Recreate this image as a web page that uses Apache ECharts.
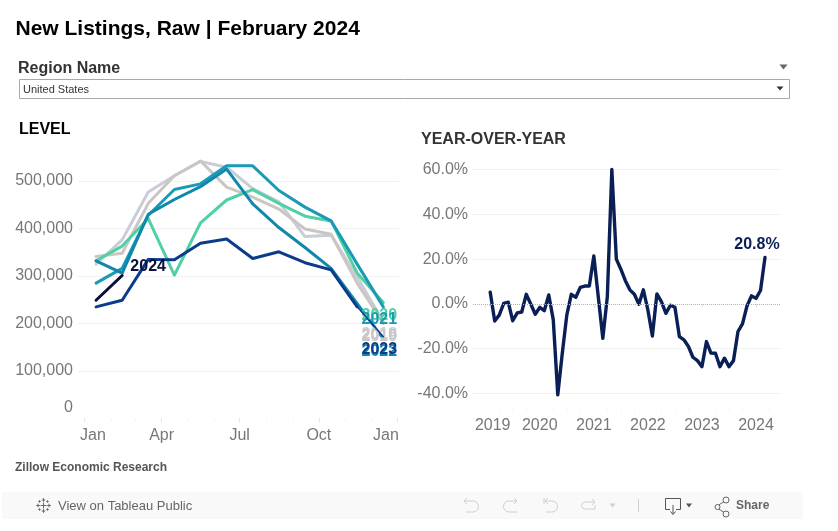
<!DOCTYPE html>
<html><head><meta charset="utf-8">
<style>html,body{margin:0;padding:0;background:#fff}#c{width:838px;height:531px}</style>
<script src="https://cdn.jsdelivr.net/npm/echarts@6/dist/echarts.min.js"></script>
</head><body><div id="c"></div>
<script>
// ---- data ----
const monthPositions = [0.45,1.45,2.45,3.45,4.45,5.45,6.45,7.45,8.45,9.45,10.45,11.45];
const level2018 = [325000,376000,477000,511000,541000,529000,484000,456000,383000,386000,298000,203000];
const level2019 = [341000,348000,453000,511000,542000,487000,466000,441000,399000,388000,285000,200000];
const level2020 = [332000,363000,421000,302000,412000,460000,482000,453000,426000,416000,306000,244000];
const level2021 = [285000,316000,428000,482000,494000,532000,532000,480000,445000,416000,325000,235000];
const level2022 = [332000,306000,430000,461000,488000,525000,452000,402000,360000,316000,242000,168000];
const level2023 = [235000,249000,335000,334000,369000,378000,337000,351000,328000,313000,235000,172000];
const level2024 = [249000,301000];
const levelTickLabels = ['Jan','Apr','Jul','Oct','Jan'];
const levelAxisValues = [100000,200000,300000,400000,500000];
const yoyValues = [5.2,-7.6,-5,0.3,0.8,-7.5,-4,-3.6,4.3,0,-4.6,-1.5,-3,4,-7.1,-40.6,-22,-5,4.3,3,7.4,8,8,21.4,3,-15.3,3.3,60,20,15.5,10.4,6.3,4.3,-0.1,6.3,-2.7,-14.3,4.5,1,-4.2,-0.6,-1.5,-14.6,-16,-19,-23.8,-25.3,-28,-16.8,-21.9,-22,-28,-24.2,-28,-25.3,-12.3,-8.9,-0.9,3.6,2.5,6,20.8];
const yoyTickLabels = ['2019','2020','2021','2022','2023','2024'];
const yoyAxisValues = [-40,-20,20,40,60];

// ---- style ----
const FONT = '"Liberation Sans", Arial, sans-serif';
const COL = {2018:'#c8cdd8',2019:'#cbc6c3',2020:'#4fd1a5',2021:'#1a9ab6',2022:'#0e89ab',2023:'#0b3c8c',2024:'#0a0f3c'};
const AXIS = '#777777', GRID = '#f1f1f1';

function lineSeries(year, vals, dy, extra){
  const pts = vals.map((v,i)=> v==null ? null : [monthPositions[i], v]).filter(Boolean);
  return Object.assign({
    type:'line', name:String(year), data:pts, xAxisIndex:0, yAxisIndex:0,
    showSymbol:false, symbol:'none', silent:true, animation:false, smooth:false,
    lineStyle:{color:COL[year], width:3, cap:'round', join:'round'},
    z: 2,
    endLabel:{show:dy!=null, formatter:String(year), color:COL[year], fontFamily:FONT, fontSize:16, fontWeight:'bold',
      align:'center', verticalAlign:'middle', distance:0, offset:[-4, dy==null?0:dy]}
  }, extra||{});
}
function txt(s,x,y,size,weight,color,align){
  return {type:'text',silent:true,x:x,y:y,style:{text:s,fontFamily:FONT,fontSize:size,fontWeight:weight||'normal',fill:color,align:align||'left',verticalAlign:'middle'}};
}
function tri(cx,cy,w,h,fill){
  return {type:'polygon',silent:true,shape:{points:[[cx-w/2,cy-h/2],[cx+w/2,cy-h/2],[cx,cy+h/2]]},style:{fill:fill}};
}
function pl(points,color,w){
  return {type:'polyline',silent:true,shape:{points:points},style:{fill:'none',stroke:color,lineWidth:w||1}};
}
function arc(cx,cy,r,a0,a1,color){
  return {type:'arc',silent:true,shape:{cx:cx,cy:cy,r:r,startAngle:a0,endAngle:a1,clockwise:true},style:{fill:'none',stroke:color,lineWidth:1}};
}
function buildGraphics(){
  const g=[];
  g.push(txt('New Listings, Raw | February 2024',15.5,29,21,'bold','#000'));
  g.push(txt('Region Name',18,69,16,'bold','#333'));
  g.push(tri(783.5,67,8,5,'#666'));
  g.push({type:'rect',silent:true,shape:{x:19.5,y:79.5,width:770,height:19},style:{fill:'#fff',stroke:'#a9a9a9',lineWidth:1}});
  g.push(txt('United States',23,89.5,11,'normal','#333'));
  g.push(tri(780,88.5,7,4,'#333'));
  g.push(txt('LEVEL',19,130,16,'bold','#000'));
  g.push(txt('YEAR-OVER-YEAR',421,140,16,'bold','#333'));
  g.push(txt('Zillow Economic Research',15,467.5,12,'bold','#555'));
  g.push({type:'rect',silent:true,z:-1,shape:{x:2,y:492,width:801,height:27},style:{fill:'#f9f9f9'}});
  // tableau logo
  const lc='#666';
  [[0,0,3],[-5.5,0,1.8],[5.5,0,1.8],[0,-5.5,1.8],[0,5.5,1.8],[-4,-4,1.2],[4,-4,1.2],[-4,4,1.2],[4,4,1.2]].forEach(p=>{
    const x=43.5+p[0],y=505.5+p[1],r=p[2];
    g.push(pl([[x-r,y],[x+r,y]],lc)); g.push(pl([[x,y-r],[x,y+r]],lc));
  });
  g.push(txt('View on Tableau Public',58,506,13,'normal','#666'));
  const dis='#cfcfcf', PI=Math.PI;
  // undo
  g.push(pl([[467,498],[464,501],[467,504]],dis)); g.push(pl([[464,501],[473,501]],dis));
  g.push(arc(473,506.5,5.5,-PI/2,PI/2,dis)); g.push(pl([[473,512],[466,512]],dis));
  // redo
  g.push(pl([[514,498],[517,501],[514,504]],dis)); g.push(pl([[517,501],[509,501]],dis));
  g.push(arc(509,506.5,5.5,PI/2,3*PI/2,dis)); g.push(pl([[509,512],[517,512]],dis));
  // revert
  g.push(pl([[544,498],[544,504]],dis)); g.push(pl([[548,498],[545,501],[548,504]],dis)); g.push(pl([[545,501],[552,501]],dis));
  g.push(arc(552,506.5,5.5,-PI/2,PI/2,dis)); g.push(pl([[552,512],[546,512]],dis));
  // refresh
  g.push(pl([[592,499],[595,502],[592,505]],dis)); g.push(pl([[595,502],[585,502]],dis));
  g.push(arc(585,505.5,3.5,PI/2,3*PI/2,dis)); g.push(pl([[585,509],[595,509],[595,505]],dis));
  g.push(tri(612.5,505.5,6,4,dis));
  g.push(pl([[638.5,499],[638.5,512]],dis));
  // download
  g.push(pl([[670,509.5],[665.5,509.5],[665.5,498.5],[680.5,498.5],[680.5,509.5],[676,509.5]],'#555'));
  g.push(pl([[673,505],[673,514]],'#555')); g.push(pl([[670.5,511.5],[673,514.5],[675.5,511.5]],'#555'));
  g.push(tri(689,505.5,6,4,'#555'));
  // share
  g.push(pl([[717,506],[725,501]],'#666')); g.push(pl([[717,508],[725,513]],'#666'));
  [[717.5,507,2.5],[726,500,3],[726,514,3]].forEach(c=>g.push({type:'circle',silent:true,shape:{cx:c[0],cy:c[1],r:c[2]},style:{fill:'#f9f9f9',stroke:'#666',lineWidth:1}}));
  g.push(txt('Share',736,506,12,'bold','#666'));
  return g;
}
const levelLabelAt = {0.33:levelTickLabels[0],2.96:levelTickLabels[1],5.95:levelTickLabels[2],8.98:levelTickLabels[3],11.55:levelTickLabels[4]};
const opt = {
  animation:false,
  textStyle:{fontFamily:FONT},
  grid:[
    {left:78, width:321, top:143, height:275.5, containLabel:false},
    {left:473, width:308, top:160.6, height:248.4, containLabel:false}
  ],
  xAxis:[
    {gridIndex:0,type:'value',position:'bottom',min:-0.241,max:12.05,axisLine:{show:false},splitLine:{show:false},
     axisTick:{show:true,length:4,lineStyle:{color:'#e4e4e4'},customValues:[0,2.96,5.95,8.98,12]},
     axisLabel:{show:true,customValues:[0.33,2.96,5.95,8.98,11.55],color:AXIS,fontSize:16,fontFamily:FONT,margin:9,
       hideOverlap:false,showMinLabel:true,showMaxLabel:true,formatter:v=>levelLabelAt[v]}},
    {gridIndex:0,type:'value',position:'bottom',min:-0.241,max:12.05,axisLine:{show:false},splitLine:{show:false},
     axisTick:{show:true,length:3,lineStyle:{color:'#f4f4f4'},customValues:[1.02,1.94,3.945,4.96,6.97,7.99,10,10.98]},axisLabel:{show:false}},
    {gridIndex:1,type:'value',position:'bottom',min:-2.82,max:65.55,axisLine:{show:false},splitLine:{show:false},
     axisTick:{show:true,length:4,lineStyle:{color:'#e4e4e4'},customValues:[0,12,24,36,48,60]},
     axisLabel:{show:true,customValues:[1.55,12,24,36,48,60],color:AXIS,fontSize:16,fontFamily:FONT,margin:9,
       hideOverlap:false,showMinLabel:true,showMaxLabel:true,
       formatter:v=>yoyTickLabels[v===1.55?0:v/12]}},
    {gridIndex:1,type:'value',position:'bottom',min:-2.82,max:65.55,axisLine:{show:false},splitLine:{show:false},
     axisTick:{show:true,length:3,lineStyle:{color:'#f4f4f4'},customValues:[3,6,9,15,18,21,27,30,33,39,42,45,51,54,57,63]},axisLabel:{show:false}}
  ],
  yAxis:[
    {gridIndex:0,type:'value',min:0,max:580000,axisLine:{show:false},
     axisTick:{show:false,customValues:levelAxisValues},
     splitLine:{show:true,lineStyle:{color:GRID,width:1}},
     axisLabel:{customValues:[22000].concat(levelAxisValues),color:AXIS,fontSize:16,fontFamily:FONT,margin:5,
       showMinLabel:true,showMaxLabel:true,hideOverlap:false,
       formatter:v=> v===22000 ? '0' : v.toLocaleString('en-US')}},
    {gridIndex:1,type:'value',min:-46.9,max:64,axisLine:{show:false},
     axisTick:{show:false,customValues:yoyAxisValues},
     splitLine:{show:true,lineStyle:{color:GRID,width:1}},
     axisLabel:{customValues:[-40,-20,0,20,40,60],color:AXIS,fontSize:16,fontFamily:FONT,margin:5,
       showMinLabel:true,showMaxLabel:true,hideOverlap:false,
       formatter:v=>v.toFixed(1)+'%'}}
  ],
  series:[
    lineSeries(2018, level2018, 13),
    lineSeries(2019, level2019, 13),
    lineSeries(2020, level2020, 13),
    lineSeries(2021, level2021, 13),
    lineSeries(2022, level2022, 13),
    lineSeries(2023, level2023.slice(0,11), null, {z:3}),
    lineSeries(2023, [null,null,null,null,null,null,null,null,null,null,level2023[10],level2023[11]], 12.5, {z:3, lineStyle:{color:COL[2023],width:1.5,cap:'round'}}),
    lineSeries(2024, level2024, null, {z:4, endLabel:{show:true,formatter:'2024',color:COL[2024],fontFamily:FONT,fontSize:16,fontWeight:'bold',align:'center',verticalAlign:'middle',distance:0,offset:[26,-9]}}),
    {type:'line',name:'YoY',data:yoyValues.map((v,i)=>[1+i,v]),xAxisIndex:2,yAxisIndex:1,showSymbol:false,symbol:'none',silent:true,
     lineStyle:{color:'#0a1f55',width:3.4,cap:'round',join:'round'},z:3,
     markLine:{silent:true,symbol:'none',label:{show:false},animation:false,data:[{yAxis:0}],lineStyle:{color:'#b3b3b3',type:'dotted',width:1}},
     endLabel:{show:true,formatter:'20.8%',color:'#0a1f55',fontFamily:FONT,fontSize:16,fontWeight:'bold',align:'center',verticalAlign:'middle',distance:0,offset:[-8,-13]}}
  ],
  graphic:{elements:buildGraphics()}
};
echarts.init(document.getElementById('c')).setOption(opt);
</script></body></html>
